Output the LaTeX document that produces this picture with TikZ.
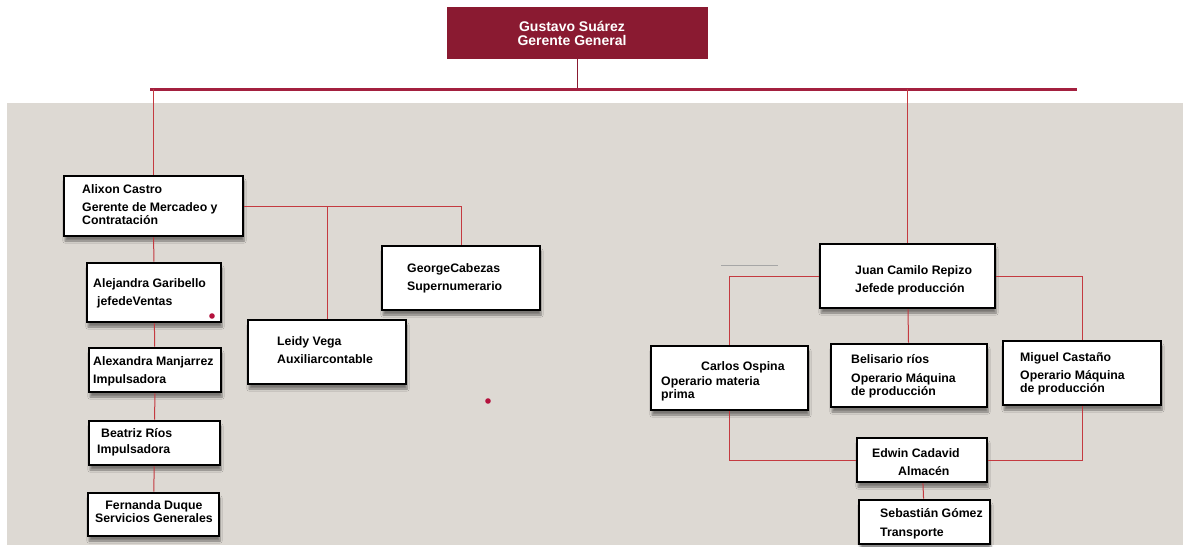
\documentclass[tikz,border=0pt]{standalone}
\usepackage{fontspec}
\setmainfont{Liberation Sans}
\usetikzlibrary{shadows.blur}

\definecolor{vino}{HTML}{8A1A31}
\definecolor{barra}{HTML}{A3203F}
\definecolor{linea}{HTML}{C43A40}
\definecolor{fondo}{HTML}{DDD9D3}
\definecolor{punto}{HTML}{B5123D}

\tikzset{
  caja/.style={draw=black, line width=2.8pt, fill=white, inner sep=0pt,
    blur shadow={shadow xshift=1pt, shadow yshift=-5pt, shadow opacity=45, shadow blur steps=6}},
  texto/.style={font=\bfseries\fontsize{12.3}{13}\selectfont, align=left, anchor=base west, inner sep=0pt},
  rama/.style={draw=linea, line width=1pt}
}

\begin{document}
\begin{tikzpicture}[x=1pt,y=-1pt]
\useasboundingbox (0,0) rectangle (1183,546);
\fill[fondo] (7,103) rectangle (1183,545);

% gerente
\node[fill=vino, minimum width=261pt, minimum height=52pt, inner sep=0pt] (gerente) at (577.5,33) {};
\node[font=\bfseries\fontsize{14}{14}\selectfont, text=white, align=center, inner sep=0pt] (t-gerente) at (572,33) {Gustavo Suárez\\Gerente General};
\coordinate (barraL) at (150,89);
\coordinate (barraR) at (1077,89);
\draw[vino, line width=1pt] (gerente.south) -- (gerente.south |- barraL);
\draw[barra, line width=3pt] (barraL) -- (barraR);

% cajas
\node[caja, minimum width=179pt, minimum height=60pt] (alixon) at (153.5,206) {};
\node[caja, minimum width=134pt, minimum height=59pt] (alejandra) at (154,292.5) {};
\node[caja, minimum width=132pt, minimum height=44pt] (alexandra) at (155,370) {};
\node[caja, minimum width=131pt, minimum height=44pt] (beatriz) at (154.5,443) {};
\node[caja, minimum width=131pt, minimum height=43pt] (fernanda) at (153.5,514.5) {};
\node[caja, minimum width=158pt, minimum height=64pt] (george) at (461,278) {};
\node[caja, minimum width=158pt, minimum height=64pt] (leidy) at (327,352) {};
\node[caja, minimum width=175pt, minimum height=64pt] (juan) at (907.5,276) {};
\node[caja, minimum width=157pt, minimum height=64pt] (carlos) at (729.5,378) {};
\node[caja, minimum width=156pt, minimum height=63pt] (belisario) at (909,375.5) {};
\node[caja, minimum width=158pt, minimum height=64pt] (miguel) at (1082,373) {};
\node[caja, minimum width=130pt, minimum height=44pt] (edwin) at (922,460) {};
\node[caja, minimum width=131pt, minimum height=44pt] (sebastian) at (924.5,522) {};

% ramas
\draw[rama] (alixon.north) -- (alixon.north |- barraL);
\draw[rama] (juan.north) -- (juan.north |- barraL);
\draw[rama] (alixon.east) -| (george.north);
\draw[rama] (leidy.north |- alixon.east) -- (leidy.north);
\draw[rama] (alixon) -- (alejandra);
\draw[rama] (alejandra) -- (alexandra);
\draw[rama] (alexandra) -- (beatriz);
\draw[rama] (beatriz) -- (fernanda);
\draw[rama] (juan.west) -| (carlos.north);
\draw[rama] (juan.east) -| (miguel.north);
\draw[rama] (juan) -- (belisario);
\draw[rama] (carlos.south) |- (edwin.west);
\draw[rama] (miguel.south) |- (edwin.east);
\draw[rama] (edwin) -- (sebastian);

\draw[gray!70, line width=1pt] (721,265) -- (778,265);
\fill[punto] (212,316) circle (2.8);
\fill[punto] (488,401) circle (2.8);

% textos (la base es la de la ultima linea)
\node[texto] (t-alixon) at (82,224.5) {Alixon Castro\\[5pt]Gerente de Mercadeo y\\Contratación};
\node[texto] (t-alejandra) at (93,305) {Alejandra Garibello\\[5pt]\hspace*{4pt}jefedeVentas};
\node[texto] (t-alexandra) at (93,383) {Alexandra Manjarrez\\[5pt]Impulsadora};
\node[texto] (t-beatriz) at (97,453) {\hspace*{4pt}Beatriz Ríos\\[3pt]Impulsadora};
\node[texto, align=center, anchor=base] (t-fernanda) at (154,522) {Fernanda Duque\\Servicios Generales};
\node[texto] (t-george) at (407,290) {GeorgeCabezas\\[5pt]Supernumerario};
\node[texto] (t-leidy) at (277,363) {Leidy Vega\\[5pt]Auxiliarcontable};
\node[texto] (t-juan) at (855,292) {Juan Camilo Repizo\\[5pt]Jefede producción};
\node[texto] (t-carlos) at (661,398) {\hspace*{40pt}Carlos Ospina\\[2pt]Operario materia\\prima};
\node[texto] (t-belisario) at (851,395) {Belisario ríos\\[6pt]Operario Máquina\\de producción};
\node[texto] (t-miguel) at (1020,392) {Miguel Castaño\\[5pt]Operario Máquina\\de producción};
\node[texto] (t-edwin) at (872,475) {Edwin Cadavid\\[5pt]\hspace*{26pt}Almacén};
\node[texto] (t-sebastian) at (880,536) {Sebastián Gómez\\[6pt]Transporte};
\end{tikzpicture}
\end{document}
